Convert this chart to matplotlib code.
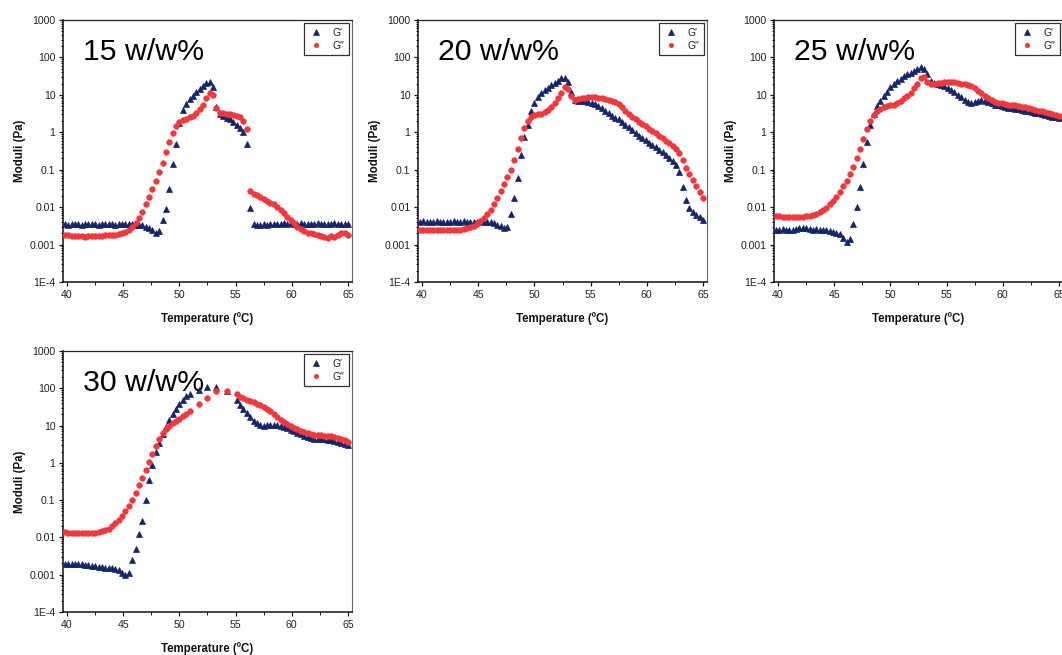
import matplotlib
matplotlib.use("Agg")
import matplotlib.pyplot as plt
from matplotlib.ticker import FixedLocator, FixedFormatter, LogLocator, MultipleLocator, NullFormatter

plt.rcParams['font.family'] = ['Liberation Sans', 'DejaVu Sans']

# ---------------- data ----------------
temp = [39.8, 40.1, 40.4, 40.7, 41.0, 41.3, 41.6, 41.9, 42.2, 42.5,
        42.8, 43.1, 43.4, 43.7, 44.0, 44.3, 44.6, 44.9, 45.2, 45.5,
        45.8, 46.1, 46.4, 46.7, 47.0, 47.3, 47.6, 47.9, 48.2, 48.5,
        48.8, 49.1, 49.4, 49.7, 50.0, 50.3, 50.6, 50.9, 51.2, 51.5,
        51.8, 52.1, 52.4, 52.7, 53.0, 53.3, 53.6, 53.9, 54.2, 54.5,
        54.8, 55.1, 55.4, 55.7, 56.0, 56.3, 56.6, 56.9, 57.2, 57.5,
        57.8, 58.1, 58.4, 58.7, 59.0, 59.3, 59.6, 59.9, 60.2, 60.5,
        60.8, 61.1, 61.4, 61.7, 62.0, 62.3, 62.6, 62.9, 63.2, 63.5,
        63.8, 64.1, 64.4, 64.7, 65.0]

temp30 = [39.8, 40.1, 40.4, 40.7, 41.0, 41.3, 41.6, 41.9, 42.2, 42.5,
          42.8, 43.1, 43.4, 43.7, 44.0, 44.3, 44.6, 44.9, 45.2, 45.5,
          45.8, 46.1, 46.4, 46.7, 47.0, 47.3, 47.6, 47.9, 48.2, 48.5,
          48.8, 49.1, 49.4, 49.7, 50.0, 50.3, 50.6, 50.9,
          51.7, 52.5, 53.3, 54.2,
          55.1, 55.4, 55.7, 56.0, 56.3, 56.6, 56.9, 57.2, 57.5,
          57.8, 58.1, 58.4, 58.7, 59.0, 59.3, 59.6, 59.9, 60.2, 60.5,
          60.8, 61.1, 61.4, 61.7, 62.0, 62.3, 62.6, 62.9, 63.2, 63.5,
          63.8, 64.1, 64.4, 64.7, 65.0]

g1_15 = [0.0035, 0.0034, 0.0035, 0.0036, 0.0035, 0.0034, 0.0035, 0.0035, 0.0036, 0.0035,
         0.0034, 0.0035, 0.0036, 0.0035, 0.0035, 0.0034, 0.0035, 0.0036, 0.0035, 0.0035,
         0.0035, 0.0034, 0.0034, 0.0033, 0.003, 0.0028, 0.0024, 0.002, 0.0023, 0.0044,
         0.009, 0.03, 0.14, 0.5, 1.8, 4.0, 5.8, 7.7, 9.5, 11.8,
         14.5, 17.5, 20.5, 22, 16, 4.6, 3.0, 2.7, 2.4, 2.2,
         1.9, 1.6, 1.3, 1.0, 0.5, 0.0094, 0.0035, 0.0034, 0.0034, 0.0035,
         0.0034, 0.0035, 0.0035, 0.0036, 0.0036, 0.0037, 0.0036, 0.0037, 0.0036, 0.0036,
         0.0037, 0.0036, 0.0035, 0.0036, 0.0036, 0.0037, 0.0036, 0.0035, 0.0036, 0.0036,
         0.0037, 0.0036, 0.0036, 0.0035, 0.0036]
g2_15 = [0.0018, 0.0018, 0.0017, 0.0017, 0.0017, 0.0017, 0.0016, 0.0017, 0.0017, 0.0017,
         0.0017, 0.0017, 0.0018, 0.0018, 0.0018, 0.0018, 0.0019, 0.0020, 0.0022, 0.0025,
         0.0030, 0.0038, 0.005, 0.0075, 0.012, 0.019, 0.03, 0.05, 0.085, 0.15,
         0.3, 0.55, 0.95, 1.5, 1.9, 2.1, 2.3, 2.5, 2.8, 3.3,
         4.2, 5.5, 8.0, 11.5, 10, 4.5, 3.3, 3.2, 3.1, 3.0,
         2.9, 2.7, 2.5, 2.0, 1.2, 0.027, 0.023, 0.021, 0.019, 0.017,
         0.015, 0.013, 0.012, 0.010, 0.0085, 0.0068, 0.0055, 0.0045, 0.0037, 0.0030,
         0.0026, 0.0023, 0.0021, 0.0020, 0.0019, 0.0018, 0.0017, 0.0016, 0.0015, 0.0017,
         0.0016, 0.0018, 0.0020, 0.0020, 0.0018]

g1_20 = [0.0041, 0.0042, 0.0041, 0.0040, 0.0041, 0.0042, 0.0041, 0.0041, 0.0040, 0.0041,
         0.0042, 0.0041, 0.0041, 0.0042, 0.0041, 0.0040, 0.0041, 0.0041, 0.0042, 0.0041,
         0.0041, 0.0040, 0.0038, 0.0034, 0.0031, 0.0028, 0.0030, 0.0065, 0.018, 0.06,
         0.25, 0.75, 1.6, 3.8, 6.0, 8.5, 11, 13.5, 15.5, 18,
         21, 24, 28, 29, 22, 12, 7.2, 6.9, 6.9, 6.8,
         6.6, 6.2, 5.6, 5.0, 4.4, 3.8, 3.3, 2.8, 2.4, 2.2,
         1.9, 1.6, 1.35, 1.15, 0.95, 0.82, 0.72, 0.62, 0.53, 0.46,
         0.40, 0.34, 0.29, 0.25, 0.21, 0.17, 0.13, 0.085, 0.035, 0.016,
         0.0095, 0.0072, 0.0060, 0.0054, 0.0046]
g2_20 = [0.0025, 0.0024, 0.0024, 0.0024, 0.0024, 0.0024, 0.0024, 0.0024, 0.0024, 0.0024,
         0.0024, 0.0025, 0.0025, 0.0026, 0.0027, 0.0029, 0.0032, 0.0036, 0.0042, 0.0050,
         0.0065, 0.0085, 0.012, 0.018, 0.027, 0.042, 0.065, 0.10, 0.18, 0.35,
         0.7, 1.3, 2.0, 2.6, 2.9, 3.0, 3.1, 3.4, 3.9, 4.8,
         6.0, 8.0, 11.5, 16, 14, 9.5, 7.3, 7.6, 8.0, 8.3,
         8.6, 8.7, 8.6, 8.4, 8.2, 7.9, 7.5, 7.0, 6.4, 5.6,
         4.6, 3.8, 3.1, 2.6, 2.2, 1.9, 1.65, 1.45, 1.25, 1.1,
         0.95, 0.82, 0.70, 0.60, 0.51, 0.43, 0.36, 0.28, 0.18, 0.11,
         0.075, 0.052, 0.036, 0.025, 0.018]

g1_25 = [0.0024, 0.0025, 0.0026, 0.0025, 0.0025, 0.0025, 0.0026, 0.0027, 0.0028, 0.0027,
         0.0026, 0.0025, 0.0026, 0.0025, 0.0024, 0.0024, 0.0023, 0.0022, 0.0021, 0.0019,
         0.0015, 0.0012, 0.0014, 0.0035, 0.010, 0.035, 0.14, 0.55, 1.6, 3.0,
         5.0, 6.8, 9.2, 12, 16, 19.5, 23, 27, 31, 35,
         39, 43, 48, 54, 50, 35, 24, 21, 19.5, 18.5,
         17, 15.5, 13.5, 12, 10, 8.5, 7.2, 6.3, 6.0, 6.4,
         7.0, 7.2, 7.0, 6.5, 6.0, 5.5, 5.2, 4.9, 4.7, 4.5,
         4.4, 4.2, 4.1, 3.9, 3.8, 3.6, 3.5, 3.3, 3.2, 3.0,
         2.9, 2.8, 2.6, 2.5, 2.4]
g2_25 = [0.0058, 0.0057, 0.0056, 0.0056, 0.0055, 0.0055, 0.0055, 0.0055, 0.0056, 0.0057,
         0.0059, 0.0062, 0.0066, 0.0072, 0.0082, 0.0096, 0.012, 0.015, 0.019, 0.026,
         0.036, 0.05, 0.075, 0.12, 0.20, 0.35, 0.65, 1.2, 2.0, 2.9,
         3.7, 4.3, 4.7, 5.0, 5.2, 5.5, 6.0, 6.8, 8.0, 9.5,
         11.5, 15, 20, 28, 30, 22, 19.5, 20, 20.5, 21,
         21.5, 22, 22, 21.5, 21, 20, 19.5, 18.5, 17.5, 15.5,
         13, 11, 9.2, 8.0, 7.2, 6.6, 6.2, 5.9, 5.7, 5.5,
         5.4, 5.2, 5.0, 4.8, 4.6, 4.4, 4.2, 4.0, 3.8, 3.6,
         3.4, 3.2, 3.0, 2.85, 2.7]

g1_30 = [0.0019, 0.0019, 0.0019, 0.0019, 0.0019, 0.0019, 0.0018, 0.0018, 0.0017, 0.0017,
         0.0016, 0.0016, 0.0015, 0.0015, 0.0015, 0.0014, 0.0013, 0.0011, 0.0010, 0.0011,
         0.0025, 0.005, 0.012, 0.028, 0.10, 0.35, 0.9, 1.9, 3.5, 6.0,
         9, 14, 20, 28, 38, 50, 62, 72,
         90, 105, 108, 85,
         50, 36, 28, 22, 17, 13.5, 11.5, 10.2, 10.0,
         10.3, 10.6, 10.5, 10.2, 9.6, 9.0, 8.4, 7.7, 7.0, 6.4,
         5.8, 5.3, 4.9, 4.6, 4.4, 4.3, 4.3, 4.3, 4.2, 4.0,
         3.8, 3.6, 3.4, 3.2, 3.0]
g2_30 = [0.014, 0.0135, 0.0133, 0.013, 0.013, 0.013, 0.013, 0.013, 0.0132, 0.0135,
         0.0138, 0.0145, 0.0155, 0.017, 0.020, 0.024, 0.030, 0.038, 0.050, 0.070,
         0.10, 0.16, 0.25, 0.40, 0.65, 1.05, 1.7, 2.8, 4.3, 6.2,
         8.2, 10, 11.5, 13, 15, 18, 21, 25,
         37, 55, 82, 85,
         70, 60, 55, 50, 46, 43, 39, 36, 32,
         28, 24, 20, 17, 14.5, 12.5, 11, 9.8, 8.8, 8.0,
         7.3, 6.7, 6.2, 5.8, 5.6, 5.5, 5.5, 5.4, 5.3, 5.1,
         4.9, 4.6, 4.3, 4.0, 3.7]

panel_titles = ['15 w/w%', '20 w/w%', '25 w/w%', '30 w/w%']
panel_temps = [temp, temp, temp, temp30]
panel_gp = [g1_15, g1_20, g1_25, g1_30]
panel_gpp = [g2_15, g2_20, g2_25, g2_30]

y_ticks = [1e-4, 1e-3, 1e-2, 1e-1, 1, 10, 100, 1000]
y_tick_labels = ['1E-4', '0.001', '0.01', '0.1', '1', '10', '100', '1000']
x_ticks = [40, 45, 50, 55, 60, 65]
legend_labels = ['G\u2032', 'G\u2032\u2032']
xlabel = 'Temperature (\u00baC)'
ylabel = 'Moduli (Pa)'

NAVY = '#14256a'
RED = '#f0393c'

# ---------------- layout (pixels) ----------------
W, H = 1062, 655
fig = plt.figure(figsize=(W / 100, H / 100), dpi=100)
fig.patch.set_facecolor('white')

# left, top, right, bottom in pixels
boxes = [(63, 20, 352, 282), (418, 20, 707, 282), (774, 20, 1063, 282), (63, 351, 352, 612)]

for i, (l, t, r, b) in enumerate(boxes):
    ax = fig.add_axes([l / W, 1 - b / H, (r - l) / W, (b - t) / H])
    ax.set_yscale('log')
    ax.set_ylim(1e-4, 1000)
    ax.set_xlim(39.64, 65.36)

    ax.plot(panel_temps[i], panel_gp[i], linestyle='none', marker='^', ms=4.9,
            color=NAVY, mec=NAVY, mew=0.5, label=legend_labels[0], zorder=3)
    ax.plot(panel_temps[i], panel_gpp[i], linestyle='none', marker='o', ms=4.1,
            color=RED, mec=RED, mew=0.4, label=legend_labels[1], zorder=4)

    ax.yaxis.set_major_locator(FixedLocator(y_ticks))
    ax.yaxis.set_major_formatter(FixedFormatter(y_tick_labels))
    ax.yaxis.set_minor_locator(LogLocator(base=10, subs=range(2, 10), numticks=20))
    ax.yaxis.set_minor_formatter(NullFormatter())
    ax.xaxis.set_major_locator(FixedLocator(x_ticks))
    ax.xaxis.set_minor_locator(MultipleLocator(2.5))

    ax.tick_params(which='major', direction='out', length=3.2, width=0.9,
                   labelsize=7.6, pad=2.2, colors='#111', labelcolor='#222')
    ax.tick_params(which='minor', direction='out', length=1.8, width=0.7, colors='#111')
    ax.tick_params(axis='x', which='major', pad=2.8)

    for s in ['left', 'bottom']:
        ax.spines[s].set_linewidth(1.1)
        ax.spines[s].set_color('#111')
    ax.spines['top'].set_linewidth(0.9)
    ax.spines['top'].set_color('#222')
    ax.spines['right'].set_linewidth(0.8)
    ax.spines['right'].set_color('#666')

    ax.set_xlabel(xlabel, fontsize=8.3, fontweight='bold', color='#111')
    ax.set_ylabel(ylabel, fontsize=8.3, fontweight='bold', color='#111')
    ax.xaxis.set_label_coords(0.5, -0.115)
    ax.yaxis.set_label_coords(-0.128, 0.5)

    ax.text(0.07, 0.848, panel_titles[i], transform=ax.transAxes, fontsize=21.8,
            color='black', ha='left', va='baseline', zorder=2)

    leg = ax.legend(loc='upper right', fontsize=7.4, frameon=True, fancybox=False,
                    edgecolor='black', handlelength=1.3, handletextpad=1.0,
                    borderpad=0.45, labelspacing=0.3, borderaxespad=0.3,
                    markerscale=0.8)
    leg.get_frame().set_linewidth(0.9)
    for txt in leg.get_texts():
        txt.set_color('#222')

fig.savefig('out.png', dpi=100)
